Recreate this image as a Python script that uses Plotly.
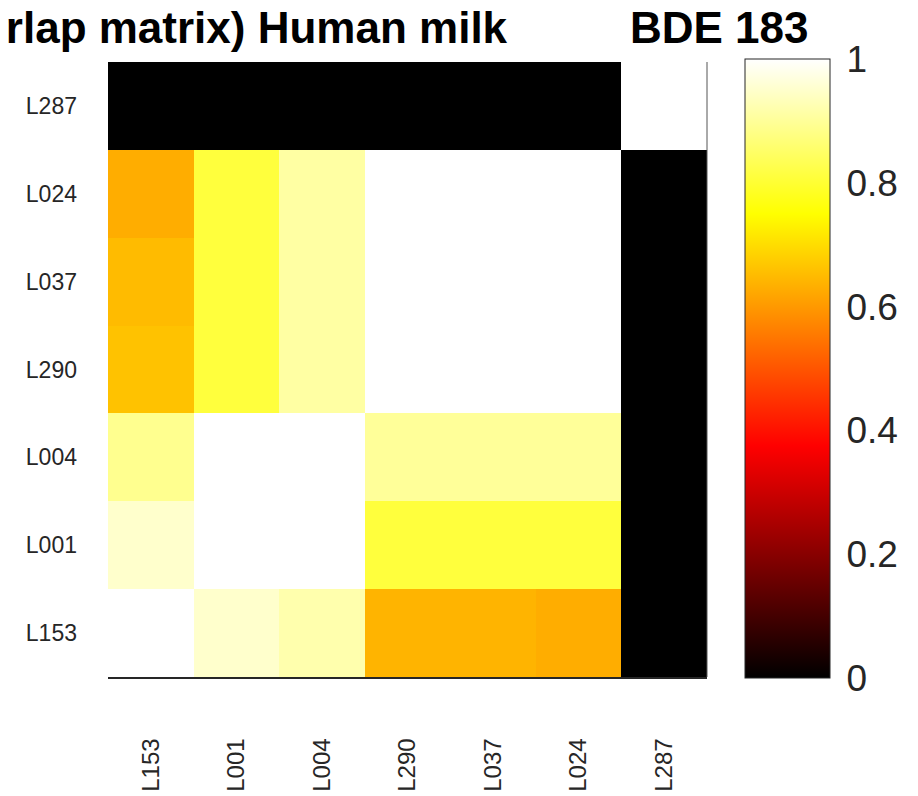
import plotly.graph_objects as go

labels = ["L153", "L001", "L004", "L290", "L037", "L024", "L287"]

# rows listed bottom -> top (same order as labels)
row_L153 = [1.00, 0.95, 0.92, 0.64, 0.64, 0.63, 0.0]
row_L001 = [0.95, 1.00, 1.00, 0.81, 0.81, 0.81, 0.0]
row_L004 = [0.89, 1.00, 1.00, 0.90, 0.90, 0.90, 0.0]
row_L290 = [0.66, 0.81, 0.91, 1.00, 1.00, 1.00, 0.0]
row_L037 = [0.65, 0.81, 0.91, 1.00, 1.00, 1.00, 0.0]
row_L024 = [0.63, 0.81, 0.91, 1.00, 1.00, 1.00, 0.0]
row_L287 = [0.0, 0.0, 0.0, 0.0, 0.0, 0.0, 1.00]

z = [row_L153, row_L001, row_L004, row_L290, row_L037, row_L024, row_L287]

cb_ticks = [0, 0.2, 0.4, 0.6, 0.8, 1]
cb_ticktext = ["0", "0.2", "0.4", "0.6", "0.8", "1"]

hot = [[0.0, "rgb(0,0,0)"], [0.375, "rgb(255,0,0)"],
       [0.75, "rgb(255,255,0)"], [1.0, "rgb(255,255,255)"]]

FONT = "Liberation Sans, Arial, sans-serif"

# page has an 8px body margin; work in reference pixel coords
OFF = 8
W, H = 918 - OFF, 796 - OFF
L_ref, T_ref = 108, 62
pw, ph = 599, 615
L, T = L_ref - OFF, T_ref - OFF
R, B = W - L - pw, H - T - ph

def px_x(p):
    return (p - L_ref) / pw

def px_y(p):
    return 1 - (p - T_ref) / ph

cb_left = 745
cb_thick = 85

fig = go.Figure(go.Heatmap(
    z=z, x=labels, y=labels, zmin=0, zmax=1, colorscale=hot,
    colorbar=dict(
        x=px_x(cb_left), xanchor="left", xpad=0, ypad=0,
        y=px_y(678), yanchor="bottom",
        len=(678 - 59) / ph, lenmode="fraction",
        thickness=cb_thick, thicknessmode="pixels",
        outlinecolor="#262626", outlinewidth=1,
        tickvals=cb_ticks, ticktext=cb_ticktext,
        ticks="outside", ticklen=9, tickcolor="rgba(0,0,0,0)",
        tickfont=dict(family=FONT, size=37, color="#262626"),
    ),
))

fig.update_layout(
    width=W, height=H,
    margin=dict(l=L, r=R, t=T, b=B, pad=0, autoexpand=False),
    paper_bgcolor="white", plot_bgcolor="white",
    font=dict(family=FONT, color="#262626"),
    xaxis=dict(type="category", tickangle=-90, showgrid=False, zeroline=False,
               showline=True, linecolor="#262626", linewidth=1.5,
               ticks="", ticklabelstandoff=50, automargin=False,
               tickfont=dict(size=24, color="#262626")),
    yaxis=dict(type="category", showgrid=False, zeroline=False, showline=False,
               ticks="", ticklabelstandoff=30, automargin=False,
               tickfont=dict(size=23, color="#262626")),
    showlegend=False,
)

fig.add_shape(type="line", xref="paper", yref="paper", x0=1, x1=1, y0=0, y1=1,
              line=dict(color="#555555", width=1))

# inner tick marks on the colorbar's right edge
cb_right = cb_left + cb_thick
for v in cb_ticks[1:-1]:
    yv = px_y(678) + v * (678 - 59) / ph
    fig.add_shape(type="line", xref="paper", yref="paper",
                  x0=px_x(cb_right - 6), x1=px_x(cb_right), y0=yv, y1=yv,
                  line=dict(color="#262626", width=1))

fig.add_annotation(text="<b>(Overlap matrix) Human milk</b>", xref="paper", yref="paper",
                   x=px_x(510), y=px_y(27), xanchor="right", yanchor="middle",
                   showarrow=False, font=dict(family=FONT, size=44, color="black"))
fig.add_annotation(text="<b>BDE 183</b>", xref="paper", yref="paper",
                   x=px_x(628), y=px_y(27), xanchor="left", yanchor="middle",
                   showarrow=False, font=dict(family=FONT, size=44, color="black"))

fig.write_html("out.html")
